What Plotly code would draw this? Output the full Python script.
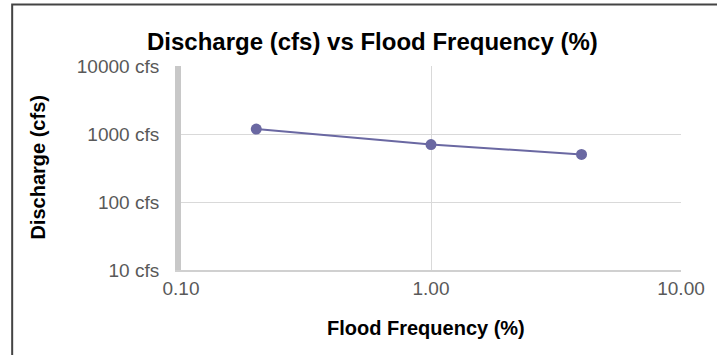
import plotly.graph_objects as go

# Data
flood_freq = [0.2, 1.0, 4.0]          # %
discharge = [1180, 700, 500]          # cfs
x_tickvals = [0.1, 1, 10]
x_ticktext = ["0.10", "1.00", "10.00"]
y_tickvals = [10, 100, 1000, 10000]
y_ticktext = ["10 cfs", "100 cfs", "1000 cfs", "10000 cfs"]

W, H = 717, 355
# plot-area edges in pixels
L, R, T, B = 181, 683, 66, 270

def px(x):
    return (x - L) / (R - L)

def py(y):
    return (B - y) / (B - T)

fig = go.Figure()
fig.add_trace(go.Scatter(
    x=flood_freq, y=discharge, mode="lines+markers",
    line=dict(color="#6a68a2", width=2),
    marker=dict(color="#6a68a2", size=11),
    showlegend=False,
))

font = "Liberation Sans, Arial, sans-serif"
fig.update_layout(
    width=W, height=H,
    margin=dict(l=L, r=W - R, t=T, b=H - B, pad=0),
    paper_bgcolor="white", plot_bgcolor="white",
    font=dict(family=font, size=19, color="#595959"),
    xaxis=dict(
        type="log", range=[-1, 1],
        tickvals=x_tickvals, ticktext=x_ticktext,
        showgrid=True, gridcolor="#d9d9d9", gridwidth=1,
        showline=True, linecolor="#d0d0d0", linewidth=2,
        zeroline=False, ticks="", ticklen=0, ticklabelstandoff=0,
        ticklabeloverflow="allow",
        tickfont=dict(size=19, color="#595959"),
    ),
    yaxis=dict(
        type="log", range=[1, 4],
        tickvals=y_tickvals, ticktext=y_ticktext,
        showgrid=True, gridcolor="#d9d9d9", gridwidth=1,
        showline=True, linecolor="#c8c8c8", linewidth=6,
        zeroline=False, ticks="", ticklen=0, ticklabelstandoff=12,
        ticklabeloverflow="allow",
        tickfont=dict(size=19, color="#595959"),
    ),
    annotations=[
        dict(text="<b>Discharge (cfs) vs Flood Frequency (%)</b>",
             xref="paper", yref="paper", x=px(373), y=py(42),
             showarrow=False, xanchor="center", yanchor="middle",
             font=dict(size=24, color="black", family=font)),
        dict(text="<b>Discharge (cfs)</b>",
             xref="paper", yref="paper", x=px(37), y=py(167),
             showarrow=False, xanchor="center", yanchor="middle", textangle=-90,
             font=dict(size=20, color="black", family=font)),
        dict(text="<b>Flood Frequency (%)</b>",
             xref="paper", yref="paper", x=px(427), y=py(328),
             showarrow=False, xanchor="center", yanchor="middle",
             font=dict(size=20, color="black", family=font)),
    ],
    shapes=[
        dict(type="rect", xref="paper", yref="paper",
             x0=px(11.5), y0=py(4.5), x1=px(740), y1=py(380),
             line=dict(color="#444444", width=2), layer="above"),
    ],
)

fig.write_html(
    "out.html",
    config={"displayModeBar": False},
    post_script="document.body.style.margin='0';document.body.style.overflow='hidden';",
)
